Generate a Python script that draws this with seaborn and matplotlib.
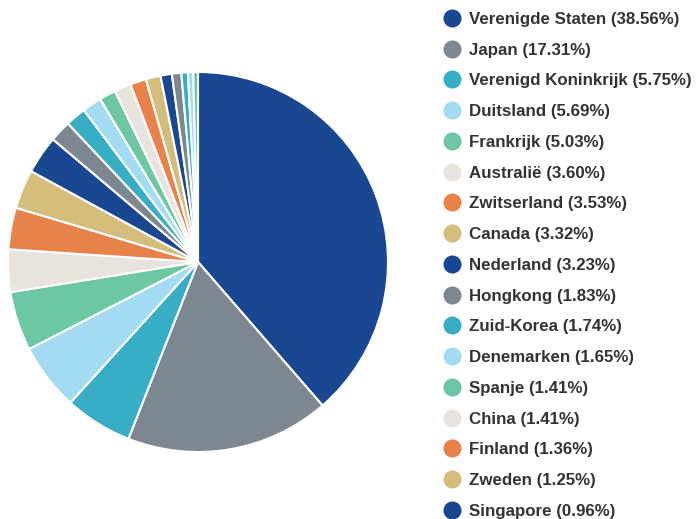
import matplotlib
matplotlib.use("Agg")
import matplotlib.pyplot as plt
from matplotlib.lines import Line2D
import seaborn as sns

sns.set_theme(style="white")
plt.rcParams['font.family'] = ['Liberation Sans', 'DejaVu Sans']

countries = ['Verenigde Staten', 'Japan', 'Verenigd Koninkrijk', 'Duitsland', 'Frankrijk',
             'Australië', 'Zwitserland', 'Canada', 'Nederland', 'Hongkong', 'Zuid-Korea',
             'Denemarken', 'Spanje', 'China', 'Finland', 'Zweden', 'Singapore',
             'Overig 1', 'Overig 2', 'Overig 3', 'Overig 4']
shares = [38.56, 17.31, 5.75, 5.69, 5.03, 3.60, 3.53, 3.32, 3.23, 1.83, 1.74,
          1.65, 1.41, 1.41, 1.36, 1.25, 0.96, 0.80, 0.55, 0.45, 0.40]

palette = ['#1a4791', '#7d8791', '#37aec6', '#a2dbf2', '#6cc7a2', '#e8e3dc', '#e6824a', '#d4bc7b']
colors = [palette[i % len(palette)] for i in range(len(shares))]

fig = plt.figure(figsize=(6.96, 5.19), dpi=100)
ax = fig.add_axes([8 / 696, 1 - 452 / 519, 380 / 696, 380 / 519])
ax.pie(shares, colors=colors, startangle=90, counterclock=False,
       wedgeprops=dict(edgecolor='white', linewidth=1.5), radius=1.0)
ax.set_xlim(-1, 1)
ax.set_ylim(-1, 1)
ax.set_aspect('equal')
ax.axis('off')

handles = [Line2D([0], [0], marker='o', linestyle='', markersize=12,
                  markerfacecolor=c, markeredgecolor=c) for c in colors[:17]]
labels = ['{} ({:.2f}%)'.format(n, v) for n, v in zip(countries[:17], shares[:17])]
leg = fig.legend(handles, labels, loc='upper left', bbox_to_anchor=(436 / 696, 1 - 5 / 519),
                 frameon=False, handletextpad=0.45, labelspacing=0.93, handlelength=1.1,
                 prop={'size': 12.2, 'weight': 'bold'}, borderaxespad=0)
for t in leg.get_texts():
    t.set_color('#333333')

fig.savefig('out.png', dpi=100)
